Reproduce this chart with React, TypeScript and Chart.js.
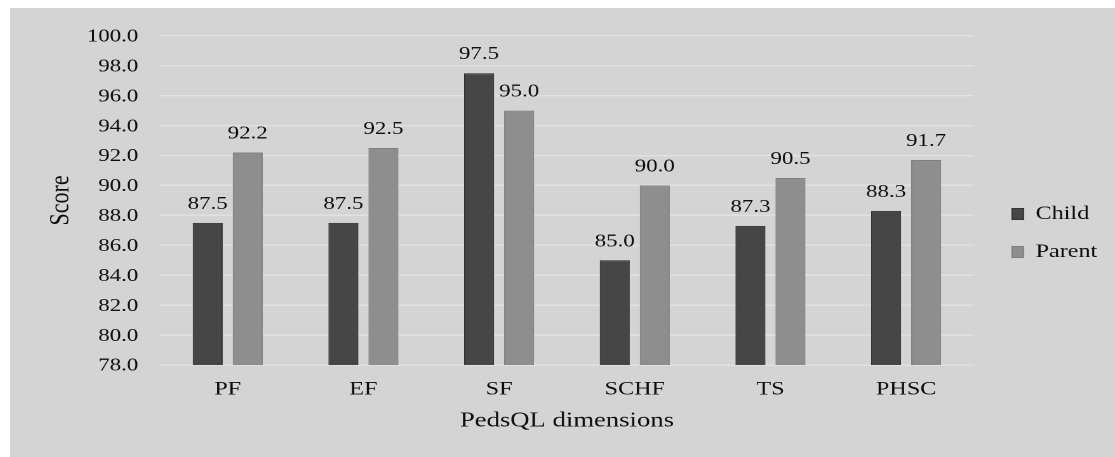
import React, { useEffect, useRef } from "react";
import { Chart, registerables } from "chart.js";

Chart.register(...registerables);

const categories = ["PF", "EF", "SF", "SCHF", "TS", "PHSC"];
const childScores = [87.5, 87.5, 97.5, 85.0, 87.3, 88.3];
const parentScores = [92.2, 92.5, 95.0, 90.0, 90.5, 91.7];
const seriesNames = ["Child", "Parent"];
const yMin = 78;
const yMax = 100;
const yStep = 2;
const xTitle = "PedsQL dimensions";
const yTitle = "Score";

const LOGICAL_W = 870;
const LOGICAL_H = 449;
const PANEL_W = 1105;
const SCALE_X = PANEL_W / LOGICAL_W;
const FONT = '"Liberation Serif", "Times New Roman", serif';
const TEXT = "#0e0e0e";

const valueLabels = {
  id: "valueLabels",
  afterDatasetsDraw(chart: any) {
    const ctx = chart.ctx;
    ctx.save();
    ctx.font = `18px ${FONT}`;
    ctx.fillStyle = TEXT;
    ctx.textAlign = "center";
    ctx.textBaseline = "alphabetic";
    chart.data.datasets.forEach((ds: any, di: number) => {
      const meta = chart.getDatasetMeta(di);
      meta.data.forEach((el: any, i: number) => {
        ctx.fillText(Number(ds.data[i]).toFixed(1), el.x, el.y - 14);
      });
    });
    ctx.restore();
  },
};

export default function App() {
  const ref = useRef<HTMLCanvasElement | null>(null);

  useEffect(() => {
    if (!ref.current) return;
    Chart.defaults.font.family = FONT;
    Chart.defaults.color = TEXT;
    const chart = new Chart(ref.current, {
      type: "bar",
      data: {
        labels: categories,
        datasets: [
          {
            label: seriesNames[0],
            data: childScores,
            backgroundColor: "#464646",
            borderColor: "#333333",
            borderWidth: 1,
            categoryPercentage: 0.59,
            barPercentage: 0.75,
          },
          {
            label: seriesNames[1],
            data: parentScores,
            backgroundColor: "#8e8e8e",
            borderColor: "#808080",
            borderWidth: 1,
            categoryPercentage: 0.59,
            barPercentage: 0.75,
          },
        ],
      },
      options: {
        responsive: false,
        animation: false,
        devicePixelRatio: 2,
        layout: { padding: { top: 25, bottom: 24, left: 0, right: 4 } },
        plugins: {
          legend: {
            position: "right",
            align: "center",
            labels: {
              boxWidth: 9,
              boxHeight: 11,
              padding: 19,
              font: { size: 19, family: FONT },
              color: TEXT,
            },
          },
          tooltip: { enabled: false },
        },
        scales: {
          x: {
            grid: { display: false, drawTicks: false },
            border: { display: false },
            ticks: { padding: 13.3, font: { size: 19, family: FONT }, color: TEXT },
            title: {
              display: true,
              text: xTitle,
              font: { size: 21, family: FONT, lineHeight: 1.14 },
              color: TEXT,
              padding: 0,
            },
            afterFit: (s: any) => {
              s.height = 68;
            },
          },
          y: {
            min: yMin,
            max: yMax,
            grid: { color: "#e2e2e2", lineWidth: 1.4, drawTicks: false },
            border: { display: false },
            ticks: {
              stepSize: yStep,
              padding: 17,
              labelOffset: 1,
              font: { size: 18, family: FONT },
              color: TEXT,
              callback: (v: any) => Number(v).toFixed(1),
            },
            title: {
              display: true,
              text: yTitle,
              font: { size: 22, family: FONT },
              color: TEXT,
              padding: { top: 26.8, bottom: 0 },
            },
            afterFit: (s: any) => {
              s.width = 118;
            },
          },
          yR: {
            type: "linear",
            position: "right",
            display: true,
            grid: { display: false, drawTicks: false },
            border: { display: false },
            ticks: { display: false },
            afterFit: (s: any) => {
              s.width = 11;
            },
          },
        },
      },
      plugins: [valueLabels],
    } as any);
    return () => chart.destroy();
  }, []);

  return (
    <div style={{ position: "fixed", left: 0, top: 0, width: 1115, height: 457, background: "#ffffff", overflow: "hidden" }}>
      <div style={{ position: "absolute", left: 10, top: 8, width: PANEL_W, height: LOGICAL_H, background: "#d4d4d4", overflow: "hidden" }}>
        <div style={{ width: LOGICAL_W, height: LOGICAL_H, transform: `scaleX(${SCALE_X})`, transformOrigin: "0 0" }}>
          <canvas ref={ref} width={LOGICAL_W} height={LOGICAL_H} style={{ width: LOGICAL_W, height: LOGICAL_H, display: "block" }} />
        </div>
      </div>
    </div>
  );
}
